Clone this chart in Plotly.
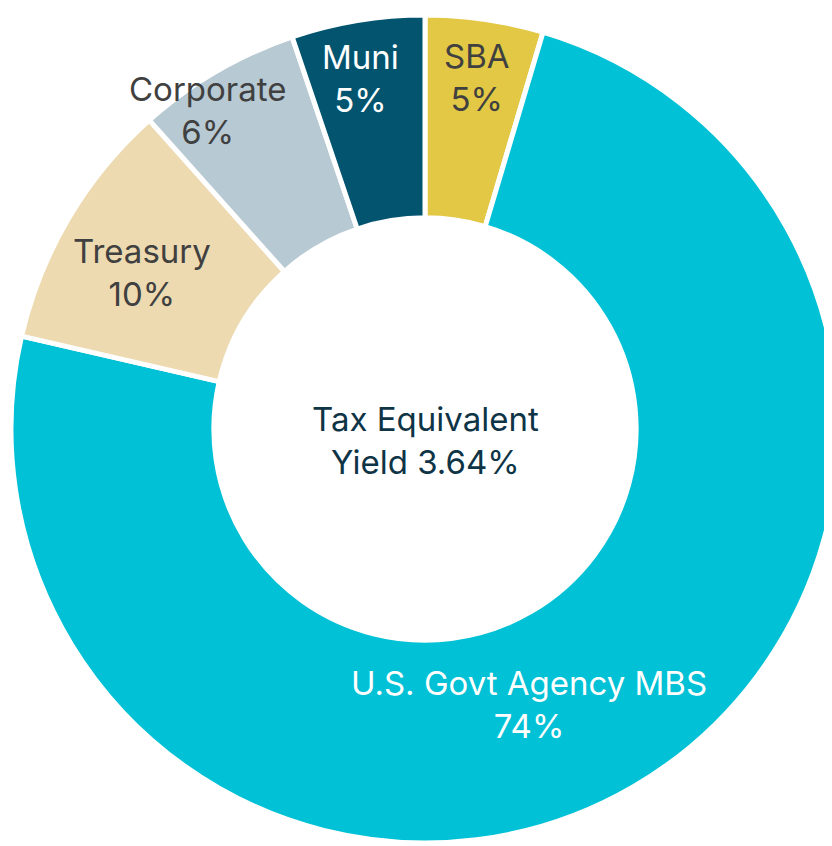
import math
import plotly.graph_objects as go

categories = ["SBA", "U.S. Govt Agency MBS", "Treasury", "Corporate", "Muni"]
values = [4.6, 74.0, 9.8, 6.4, 5.2]
center_title = "Tax Equivalent<br>Yield 3.64%"

colors = ["#E2C845", "#00C1D5", "#EDDAB0", "#B7C9D3", "#02546F"]
text_colors = ["#404040", "#FFFFFF", "#404040", "#404040", "#FFFFFF"]
# label placement: (radius fraction of outer radius, angle offset in degrees)
label_place = [(0.858, 0.2), (0.712, 9.6), (0.782, -1.6), (0.932, -4.0), (0.862, -1.1)]

W, H = 832, 846
ML, MR, MT, MB = 3, 1, 0, 4
pw, ph = W - ML - MR, H - MT - MB
R = min(pw, ph) / 2.0
FONT = "Inter"
FS = 33

fig = go.Figure(go.Pie(
    labels=categories,
    values=values,
    sort=False,
    direction="clockwise",
    rotation=0,
    hole=0.51,
    marker=dict(colors=colors, line=dict(color="white", width=5)),
    textinfo="none",
    showlegend=False,
))

annotations = []
total = sum(values)
cum = 0.0
for cat, v, tc, (rf, off) in zip(categories, values, text_colors, label_place):
    mid = (cum + v / 2) / total * 360.0 + off
    cum += v
    a = math.radians(mid)
    x = 0.5 + rf * R * math.sin(a) / pw
    y = 0.5 + rf * R * math.cos(a) / ph
    annotations.append(dict(
        x=x, y=y, xref="paper", yref="paper", showarrow=False,
        text=f"{cat}<br>{round(v / total * 100):.0f}%",
        font=dict(family=FONT, size=FS, color=tc),
        xanchor="center", yanchor="middle",
    ))
annotations.append(dict(
    x=0.5, y=0.5, xref="paper", yref="paper", showarrow=False, yshift=-11,
    text=center_title, font=dict(family=FONT, size=FS, color="#0E3446"),
    xanchor="center", yanchor="middle",
))

fig.update_layout(
    width=W, height=H,
    margin=dict(l=ML, r=MR, t=MT, b=MB),
    paper_bgcolor="white", plot_bgcolor="white",
    annotations=annotations,
)
fig.write_html("out.html")
